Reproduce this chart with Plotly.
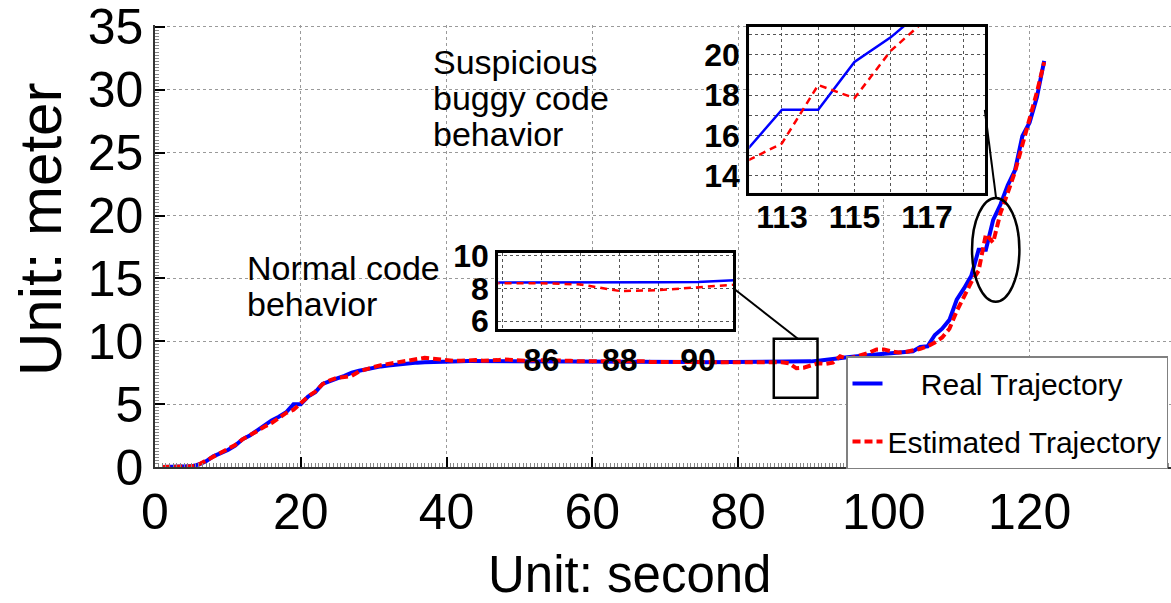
import plotly.graph_objects as go

# Time stamps (s) and trajectory values (m)
time_s = list(range(1, 123))

real_traj = [
    0, 0, 0, 0, 0.05, 0.2, 0.45, 0.85, 1.1, 1.35,
    1.7, 2.2, 2.5, 2.9, 3.35, 3.7, 4.0, 4.35, 5.0, 5.0,
    5.6, 5.95, 6.6, 6.85, 7.05, 7.25, 7.5, 7.65, 7.78, 7.9,
    8.0, 8.08, 8.15, 8.2, 8.25, 8.3, 8.33, 8.36, 8.38, 8.4,
    8.4, 8.41, 8.42, 8.42, 8.42, 8.43, 8.43, 8.42, 8.42, 8.41,
    8.41, 8.41, 8.4, 8.4, 8.4, 8.4, 8.39, 8.39, 8.39, 8.38,
    8.38, 8.38, 8.37, 8.37, 8.37, 8.36, 8.36, 8.36, 8.35, 8.35,
    8.35, 8.35, 8.35, 8.35, 8.34, 8.34, 8.34, 8.34, 8.34, 8.34,
    8.34, 8.34, 8.34, 8.34, 8.34, 8.34, 8.35, 8.36, 8.38, 8.4,
    8.45, 8.5, 8.58, 8.65, 8.72, 8.78, 8.85, 8.9, 8.95, 9.0,
    9.05, 9.1, 9.15, 9.2, 9.55, 9.6, 10.5, 11.0, 11.7, 13.3,
    14.2, 15.2, 17.27, 17.27, 19.65, 20.87, 22.4, 23.6, 26.3, 27.4,
    29.4, 32.3,
]

est_traj = [
    0, 0, 0, 0, 0.05, 0.2, 0.5, 0.85, 1.1, 1.4,
    1.75, 2.2, 2.5, 2.85, 3.2, 3.5, 3.9, 4.3, 4.55, 5.1,
    5.6, 6.0, 6.6, 6.9, 7.1, 7.15, 7.25, 7.6, 7.8, 7.95,
    8.1, 8.2, 8.3, 8.45, 8.55, 8.65, 8.68, 8.62, 8.55, 8.5,
    8.45, 8.45, 8.5, 8.5, 8.45, 8.45, 8.5, 8.55, 8.5, 8.45,
    8.45, 8.5, 8.5, 8.45, 8.45, 8.45, 8.45, 8.4, 8.4, 8.45,
    8.45, 8.4, 8.4, 8.4, 8.45, 8.45, 8.4, 8.35, 8.35, 8.35,
    8.35, 8.35, 8.4, 8.4, 8.35, 8.35, 8.35, 8.35, 8.35, 8.35,
    8.35, 8.35, 8.35, 8.34, 8.34, 8.33, 8.25, 7.85, 7.9, 8.1,
    8.25, 8.2, 8.3, 8.8, 8.6, 8.75, 8.9, 9.1, 9.35, 9.35,
    9.2, 9.1, 9.15, 9.25, 9.4, 9.6, 9.9, 10.3, 11.0, 12.4,
    13.6, 14.7, 15.6, 18.5, 17.85, 20.2, 21.8, 23.5, 25.6, 27.6,
    29.8, 32.2,
]

assert len(time_s) == len(real_traj) == len(est_traj)

main_xticks = [0, 20, 40, 60, 80, 100, 120]
main_yticks = [0, 5, 10, 15, 20, 25, 30, 35]

# Zoom windows (x range, y range) shown in the two inset panels
zoom_normal_x = [84.9, 90.9]
zoom_normal_y = [5.5, 10.2]
zoom_normal_xticks = [86, 88, 90]
zoom_normal_yticks = [6, 8, 10]

zoom_bug_x = [112.1, 118.6]
zoom_bug_y = [13.15, 21.4]
zoom_bug_xticks = [113, 115, 117]
zoom_bug_yticks = [14, 16, 18, 20]

FONT = "Arial, Liberation Sans, sans-serif"
BLUE = "#0000ff"
RED = "#ff0000"
NBSP = "\u00a0"

fig = go.Figure()

# Main panel
fig.add_trace(go.Scatter(
    x=time_s, y=real_traj, mode="lines", name=NBSP * 4 + "Real Trajectory",
    line=dict(color=BLUE, width=4), legendgroup="real",
    xaxis="x", yaxis="y",
))
fig.add_trace(go.Scatter(
    x=time_s, y=est_traj, mode="lines", name="Estimated Trajectory",
    line=dict(color=RED, width=4, dash="8px,4px"), legendgroup="est",
    xaxis="x", yaxis="y",
))

# Inset panels reuse the same series
for xa, ya in (("x2", "y2"), ("x3", "y3")):
    fig.add_trace(go.Scatter(
        x=time_s, y=real_traj, mode="lines", showlegend=False,
        line=dict(color=BLUE, width=2.5), xaxis=xa, yaxis=ya,
    ))
    fig.add_trace(go.Scatter(
        x=time_s, y=est_traj, mode="lines", showlegend=False,
        line=dict(color=RED, width=2.5, dash="7px,5px"), xaxis=xa, yaxis=ya,
    ))

W, H = 1171, 603
ML, MR, MT, MB = 155, 0, 25, 136
PW, PH = W - ML - MR, H - MT - MB


def px_x(p):
    return (p - ML) / PW


def px_y(p):
    return (H - MB - p) / PH


grid_main = dict(showgrid=True, gridcolor="#9a9a9a", gridwidth=1, griddash="dot")
grid_inset = dict(showgrid=True, gridcolor="#555555", gridwidth=1.2, griddash="dot")
inset_minor = dict(dtick=1, showgrid=True, gridcolor="#555555", griddash="dot", gridwidth=1.2)
inset_font = dict(size=32, family=FONT, weight="bold")

fig.update_layout(
    width=W, height=H, autosize=False,
    margin=dict(l=ML, r=MR, t=MT, b=MB, pad=0),
    paper_bgcolor="white", plot_bgcolor="white",
    font=dict(family=FONT, color="black"),
    xaxis=dict(
        domain=[0, 1], range=[0, 139.4], tickvals=main_xticks,
        ticks="inside", ticklen=10, tickwidth=1.5, tickcolor="black",
        showline=True, linecolor="#333333", linewidth=1.5, zeroline=False,
        tickfont=dict(size=50), ticklabeloverflow="allow",
        minor=dict(ticks="inside", ticklen=4, dtick=0.5, tickcolor="#888888", tickwidth=1),
        **grid_main,
    ),
    yaxis=dict(
        domain=[0, 1], range=[0, 35.15], tickvals=main_yticks,
        ticks="inside", ticklen=10, tickwidth=1.5, tickcolor="black",
        showline=True, linecolor="#333333", linewidth=1.5, zeroline=False,
        tickfont=dict(size=50), ticklabeloverflow="allow",
        minor=dict(ticks="inside", ticklen=4, dtick=0.25, tickcolor="#888888", tickwidth=1),
        **grid_main,
    ),
    xaxis2=dict(
        domain=[px_x(498.3), px_x(733.3)], range=zoom_normal_x, anchor="y2",
        tickvals=zoom_normal_xticks, showline=True, mirror=True,
        linecolor="black", linewidth=3, zeroline=False, ticks="",
        tickfont=inset_font, minor=inset_minor, **grid_inset,
    ),
    yaxis2=dict(
        domain=[px_y(329.3), px_y(252.7)], range=zoom_normal_y, anchor="x2",
        tickvals=zoom_normal_yticks, showline=True, mirror=True,
        linecolor="black", linewidth=3, zeroline=False, ticks="",
        tickfont=inset_font, **grid_inset,
    ),
    xaxis3=dict(
        domain=[px_x(749.3), px_x(985)], range=zoom_bug_x, anchor="y3",
        tickvals=zoom_bug_xticks, showline=True, mirror=True,
        linecolor="black", linewidth=3, zeroline=False, ticks="",
        tickfont=inset_font, minor=inset_minor, ticklabelstandoff=-6,
        **grid_inset,
    ),
    yaxis3=dict(
        domain=[px_y(192.7), px_y(26.7)], range=zoom_bug_y, anchor="x3",
        tickvals=zoom_bug_yticks, showline=True, mirror=True,
        linecolor="black", linewidth=3, zeroline=False, ticks="",
        tickfont=inset_font, minor=inset_minor, **grid_inset,
    ),
    legend=dict(
        x=px_x(846), y=px_y(356), xanchor="left", yanchor="top",
        bgcolor="white", bordercolor="#808080", borderwidth=1.5,
        font=dict(size=30, family=FONT), tracegroupgap=16,
        itemwidth=30,
    ),
    showlegend=True,
)

shapes = [
    # inset backgrounds
    dict(type="rect", xref="x2 domain", yref="y2 domain", x0=0, x1=1, y0=0, y1=1,
         fillcolor="#e6e6e6", line=dict(width=0), layer="below"),
    dict(type="rect", xref="x3 domain", yref="y3 domain", x0=0, x1=1, y0=0, y1=1,
         fillcolor="#e6e6e6", line=dict(width=0), layer="below"),
    # zoomed regions on the main panel
    dict(type="rect", xref="x", yref="y",
         x0=zoom_normal_x[0], x1=zoom_normal_x[1], y0=zoom_normal_y[0], y1=zoom_normal_y[1],
         line=dict(color="black", width=2.5)),
    dict(type="circle", xref="x", yref="y",
         x0=zoom_bug_x[0], x1=zoom_bug_x[1], y0=zoom_bug_y[0], y1=zoom_bug_y[1],
         line=dict(color="black", width=2.5)),
    # connectors
    dict(type="line", xref="x", yref="y", x0=79.3, y0=14.24, x1=88.2, y1=10.2,
         line=dict(color="black", width=2)),
    dict(type="line", xref="x", yref="y", x0=113.85, y0=28.4, x1=115.4, y1=21.4,
         line=dict(color="black", width=2)),
]
fig.update_layout(shapes=shapes)

ann_font = dict(size=34, family=FONT, color="black")
notes = [
    ("Normal code", 12.3, 15.8),
    ("behavior", 12.3, 13.0),
    ("Suspicious", 37.8, 32.2),
    ("buggy code", 37.8, 29.35),
    ("behavior", 37.8, 26.5),
]
annotations = [
    dict(text=t, x=x, y=y, xref="x", yref="y", xanchor="left", yanchor="middle",
         showarrow=False, font=ann_font)
    for t, x, y in notes
]
# axis titles
annotations.append(dict(
    text="Unit: second", xref="paper", yref="paper", x=px_x(630), y=px_y(574),
    xanchor="center", yanchor="middle", showarrow=False,
    font=dict(size=51, family=FONT, color="black"),
))
annotations.append(dict(
    text="Unit: meter", xref="paper", yref="paper", x=px_x(40), y=px_y(230),
    xanchor="center", yanchor="middle", textangle=-90, showarrow=False,
    font=dict(size=60, family=FONT, color="black"),
))
fig.update_layout(annotations=annotations)

fig.write_html("out.html")
